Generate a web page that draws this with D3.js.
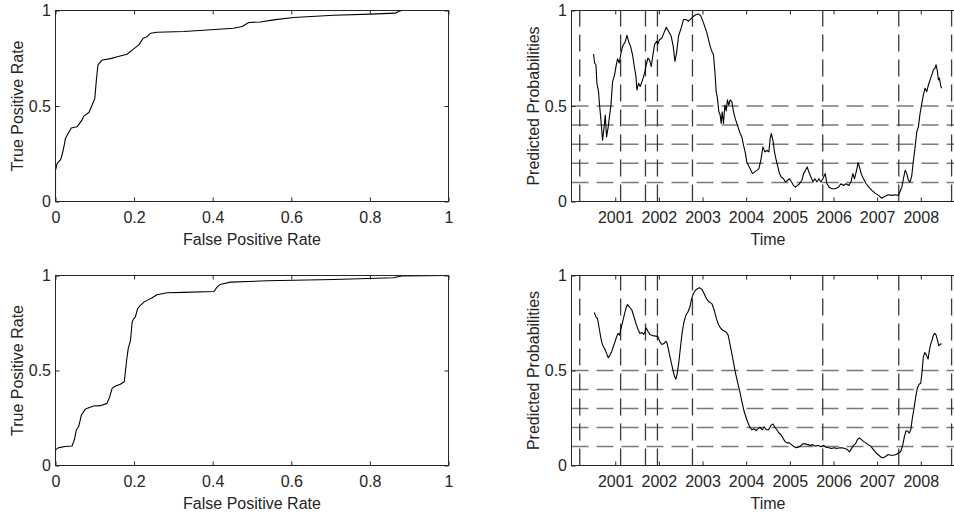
<!DOCTYPE html>
<html>
<head>
<meta charset="utf-8">
<script src="https://cdn.jsdelivr.net/npm/d3@7"></script>
<style>
  html, body { margin: 0; padding: 0; background: #fff; }
  svg { display: block; }
  text { font-family: "Liberation Sans", Arial, Helvetica, sans-serif; }
</style>
</head>
<body>
<svg id="chart" width="954" height="512"></svg>
<script>
// ROC curves: [false positive rate, true positive rate]
const rocTop = [
  [0,0],[0,0.163],[0.004,0.198],[0.013,0.219],[0.015,0.233],[0.019,0.264],[0.023,0.303],
  [0.025,0.329],[0.032,0.356],[0.040,0.385],[0.055,0.391],[0.068,0.429],[0.072,0.447],
  [0.085,0.466],[0.093,0.504],[0.100,0.539],[0.104,0.636],[0.108,0.715],[0.119,0.741],
  [0.140,0.748],[0.157,0.758],[0.182,0.771],[0.199,0.799],[0.212,0.820],[0.223,0.855],
  [0.233,0.863],[0.242,0.881],[0.258,0.886],[0.326,0.890],[0.386,0.898],[0.453,0.907],
  [0.475,0.916],[0.492,0.937],[0.521,0.940],[0.555,0.951],[0.606,0.963],[0.708,0.975],
  [0.801,0.981],[0.864,0.986],[0.873,0.995],[0.881,1],[1,1]
];
const rocBottom = [
  [0,0],[0,0.082],[0.008,0.094],[0.025,0.100],[0.042,0.103],[0.048,0.135],[0.053,0.187],
  [0.059,0.205],[0.066,0.266],[0.076,0.297],[0.097,0.313],[0.114,0.315],[0.131,0.327],
  [0.138,0.362],[0.144,0.406],[0.153,0.418],[0.165,0.428],[0.175,0.441],[0.181,0.554],
  [0.185,0.615],[0.191,0.659],[0.195,0.755],[0.199,0.773],[0.203,0.781],[0.209,0.825],
  [0.216,0.843],[0.225,0.860],[0.233,0.869],[0.246,0.883],[0.258,0.899],[0.284,0.909],
  [0.326,0.911],[0.403,0.916],[0.411,0.939],[0.419,0.953],[0.445,0.965],[0.538,0.972],
  [0.708,0.979],[0.860,0.988],[0.881,0.997],[1,1]
];

// Predicted probabilities over time: [decimal year, probability]
const probTop = [
  [2000.504,0.772],[2000.527,0.725],[2000.559,0.716],[2000.581,0.619],[2000.618,0.575],
  [2000.641,0.505],[2000.673,0.426],[2000.710,0.321],[2000.742,0.383],[2000.772,0.453],
  [2000.801,0.338],[2000.834,0.383],[2000.863,0.435],[2000.902,0.505],[2000.939,0.628],
  [2000.985,0.663],[2001.017,0.707],[2001.053,0.747],[2001.092,0.725],[2001.131,0.777],
  [2001.168,0.812],[2001.230,0.838],[2001.269,0.870],[2001.305,0.838],[2001.351,0.812],
  [2001.397,0.768],[2001.436,0.707],[2001.475,0.654],[2001.497,0.584],[2001.534,0.619],
  [2001.573,0.602],[2001.626,0.637],[2001.672,0.672],[2001.711,0.716],[2001.749,0.751],
  [2001.786,0.742],[2001.825,0.707],[2001.864,0.768],[2001.901,0.821],[2001.946,0.838],
  [2001.978,0.825],[2002.015,0.847],[2002.070,0.856],[2002.116,0.883],[2002.169,0.912],
  [2002.221,0.891],[2002.283,0.865],[2002.329,0.812],[2002.368,0.733],[2002.405,0.777],
  [2002.450,0.865],[2002.512,0.909],[2002.565,0.953],[2002.620,0.953],[2002.679,0.944],
  [2002.741,0.958],[2002.794,0.970],[2002.855,0.979],[2002.908,0.982],[2002.960,0.972],
  [2003.023,0.935],[2003.100,0.883],[2003.176,0.812],[2003.215,0.786],[2003.252,0.768],
  [2003.284,0.681],[2003.314,0.575],[2003.343,0.540],[2003.375,0.470],[2003.405,0.453],
  [2003.428,0.409],[2003.451,0.470],[2003.481,0.409],[2003.513,0.505],[2003.543,0.474],
  [2003.572,0.532],[2003.604,0.505],[2003.634,0.532],[2003.673,0.523],[2003.710,0.470],
  [2003.749,0.435],[2003.787,0.409],[2003.824,0.383],[2003.863,0.356],[2003.902,0.338],
  [2003.939,0.295],[2003.978,0.260],[2004.016,0.207],[2004.053,0.189],[2004.092,0.172],
  [2004.145,0.146],[2004.191,0.154],[2004.245,0.163],[2004.291,0.172],[2004.337,0.216],
  [2004.383,0.286],[2004.429,0.260],[2004.474,0.268],[2004.520,0.260],[2004.550,0.330],
  [2004.573,0.356],[2004.612,0.321],[2004.648,0.260],[2004.688,0.216],[2004.726,0.181],
  [2004.763,0.146],[2004.802,0.128],[2004.855,0.119],[2004.900,0.102],[2004.946,0.111],
  [2004.992,0.119],[2005.038,0.102],[2005.084,0.084],[2005.129,0.075],[2005.175,0.084],
  [2005.221,0.093],[2005.276,0.111],[2005.313,0.146],[2005.358,0.163],[2005.397,0.181],
  [2005.436,0.154],[2005.482,0.128],[2005.528,0.105],[2005.574,0.119],[2005.619,0.102],
  [2005.665,0.119],[2005.711,0.102],[2005.757,0.119],[2005.809,0.146],[2005.849,0.093],
  [2005.901,0.075],[2005.963,0.067],[2006.038,0.067],[2006.114,0.075],[2006.169,0.093],
  [2006.229,0.084],[2006.290,0.093],[2006.352,0.084],[2006.398,0.102],[2006.444,0.146],
  [2006.480,0.119],[2006.519,0.154],[2006.565,0.204],[2006.595,0.181],[2006.634,0.146],
  [2006.687,0.119],[2006.748,0.093],[2006.810,0.075],[2006.879,0.058],[2006.954,0.044],
  [2007.030,0.032],[2007.108,0.017],[2007.183,0.028],[2007.259,0.035],[2007.337,0.032],
  [2007.412,0.035],[2007.488,0.032],[2007.566,0.075],[2007.603,0.119],[2007.642,0.163],
  [2007.680,0.146],[2007.717,0.111],[2007.756,0.102],[2007.795,0.137],[2007.832,0.216],
  [2007.871,0.286],[2007.909,0.365],[2007.946,0.391],[2007.985,0.462],[2008.024,0.514],
  [2008.060,0.558],[2008.099,0.593],[2008.138,0.575],[2008.175,0.611],[2008.214,0.637],
  [2008.253,0.663],[2008.289,0.689],[2008.328,0.698],[2008.351,0.716],[2008.381,0.681],
  [2008.404,0.637],[2008.427,0.646],[2008.459,0.602],[2008.482,0.593]
];
const probBottom = [
  [2000.520,0.805],[2000.559,0.782],[2000.595,0.773],[2000.634,0.721],[2000.673,0.669],
  [2000.710,0.634],[2000.756,0.616],[2000.801,0.590],[2000.840,0.567],[2000.879,0.581],
  [2000.916,0.598],[2000.955,0.625],[2000.994,0.651],[2001.030,0.677],[2001.063,0.695],
  [2001.099,0.686],[2001.131,0.721],[2001.168,0.755],[2001.214,0.799],[2001.253,0.834],
  [2001.282,0.847],[2001.328,0.834],[2001.383,0.817],[2001.429,0.782],[2001.475,0.747],
  [2001.521,0.717],[2001.566,0.695],[2001.612,0.700],[2001.649,0.690],[2001.688,0.707],
  [2001.711,0.724],[2001.749,0.707],[2001.795,0.690],[2001.841,0.686],[2001.887,0.682],
  [2001.933,0.681],[2001.978,0.677],[2002.024,0.651],[2002.070,0.637],[2002.116,0.642],
  [2002.162,0.654],[2002.191,0.642],[2002.230,0.598],[2002.276,0.550],[2002.322,0.503],
  [2002.359,0.468],[2002.391,0.455],[2002.421,0.485],[2002.459,0.546],[2002.496,0.625],
  [2002.535,0.703],[2002.574,0.755],[2002.620,0.791],[2002.665,0.808],[2002.711,0.834],
  [2002.741,0.869],[2002.780,0.899],[2002.833,0.921],[2002.878,0.930],[2002.931,0.936],
  [2002.986,0.927],[2003.039,0.904],[2003.091,0.878],[2003.153,0.860],[2003.215,0.852],
  [2003.268,0.817],[2003.320,0.773],[2003.366,0.742],[2003.421,0.721],[2003.467,0.712],
  [2003.543,0.703],[2003.588,0.686],[2003.634,0.634],[2003.687,0.572],[2003.749,0.494],
  [2003.801,0.441],[2003.847,0.398],[2003.902,0.337],[2003.955,0.284],[2004.016,0.241],
  [2004.076,0.206],[2004.131,0.188],[2004.184,0.194],[2004.229,0.183],[2004.275,0.194],
  [2004.321,0.201],[2004.367,0.188],[2004.413,0.204],[2004.459,0.188],[2004.511,0.188],
  [2004.566,0.211],[2004.612,0.218],[2004.658,0.201],[2004.703,0.188],[2004.749,0.171],
  [2004.795,0.162],[2004.841,0.145],[2004.887,0.127],[2004.932,0.119],[2004.985,0.119],
  [2005.038,0.110],[2005.084,0.101],[2005.139,0.093],[2005.191,0.096],[2005.237,0.101],
  [2005.290,0.114],[2005.345,0.114],[2005.404,0.110],[2005.466,0.106],[2005.528,0.110],
  [2005.587,0.101],[2005.649,0.106],[2005.711,0.099],[2005.771,0.106],[2005.833,0.096],
  [2005.894,0.093],[2005.954,0.089],[2006.016,0.093],[2006.077,0.089],[2006.137,0.093],
  [2006.199,0.093],[2006.261,0.089],[2006.320,0.084],[2006.366,0.072],[2006.412,0.089],
  [2006.457,0.106],[2006.503,0.114],[2006.549,0.136],[2006.595,0.145],[2006.641,0.136],
  [2006.687,0.127],[2006.741,0.119],[2006.794,0.110],[2006.856,0.101],[2006.916,0.084],
  [2006.977,0.066],[2007.039,0.054],[2007.092,0.043],[2007.145,0.040],[2007.200,0.049],
  [2007.252,0.058],[2007.314,0.054],[2007.373,0.054],[2007.435,0.058],[2007.497,0.066],
  [2007.543,0.075],[2007.589,0.110],[2007.626,0.153],[2007.664,0.183],[2007.703,0.180],
  [2007.739,0.171],[2007.772,0.188],[2007.808,0.250],[2007.847,0.302],[2007.886,0.363],
  [2007.922,0.407],[2007.961,0.428],[2008.000,0.433],[2008.030,0.494],[2008.060,0.572],
  [2008.092,0.595],[2008.129,0.581],[2008.168,0.560],[2008.198,0.607],[2008.230,0.642],
  [2008.260,0.660],[2008.289,0.686],[2008.321,0.695],[2008.351,0.686],[2008.381,0.660],
  [2008.413,0.630],[2008.443,0.637],[2008.472,0.642]
];

// Event dates (vertical markers) and probability thresholds (horizontal markers)
const eventDates = ["2000-03-10", "2001-02-15", "2001-09-11", "2001-12-20",
                    "2002-10-09", "2005-10-03", "2007-07-01", "2008-09-15"];
const thresholds = [0.1, 0.2, 0.3, 0.4, 0.5];

// Axis ticks and labels
const rateTicks = [0, 0.2, 0.4, 0.6, 0.8, 1];
const probTicks = [0, 0.5, 1];
const yearTicks = [2001, 2002, 2003, 2004, 2005, 2006, 2007, 2008];
const timeDomain = ["2000-01-01", "2009-01-01"];
const labels = {
  fpr: "False Positive Rate",
  tpr: "True Positive Rate",
  time: "Time",
  prob: "Predicted Probabilities"
};

// ---------------------------------------------------------------------------
const INK = "#262626";
const FONT_SIZE = 16;
const TICK = 4;
const DASH = "17,8";

const svg = d3.select("#chart");

const colLeft = [55.5, 448.5];
const colRight = [571.5, 964.5];
const rowTop = [201.5, 10.5];
const rowBottom = [465.5, 275.5];

const decimalYearToDate = t => {
  const y = Math.floor(t);
  const a = Date.UTC(y, 0, 1), b = Date.UTC(y + 1, 0, 1);
  return new Date(a + (t - y) * (b - a));
};
const parseDay = d3.utcParse("%Y-%m-%d");
const numFmt = d3.format("~g");

function frame(g, x, y, xTicks, xFmt, xLabel, yLabel) {
  const [x0, x1] = x.range();
  const [y0, y1] = y.range();

  const styleAxis = sel => {
    sel.select(".domain").remove();
    sel.selectAll(".tick line").attr("stroke", INK).attr("stroke-width", 1);
    sel.selectAll(".tick text")
      .attr("fill", INK)
      .attr("font-size", FONT_SIZE)
      .attr("font-family", '"Liberation Sans", Arial, sans-serif');
  };

  g.append("g").attr("transform", `translate(0,${y0})`)
    .call(d3.axisBottom(x).tickValues(xTicks).tickFormat(xFmt)
      .tickSize(-TICK).tickPadding(10))
    .call(styleAxis);
  g.append("g").attr("transform", `translate(0,${y1})`)
    .call(d3.axisTop(x).tickValues(xTicks).tickFormat("").tickSize(-TICK))
    .call(styleAxis);
  g.append("g").attr("transform", `translate(${x0},0)`)
    .call(d3.axisLeft(y).tickValues(probTicks).tickFormat(numFmt)
      .tickSize(-TICK).tickPadding(4.5))
    .call(styleAxis);
  g.append("g").attr("transform", `translate(${x1},0)`)
    .call(d3.axisRight(y).tickValues(probTicks).tickFormat("").tickSize(-TICK))
    .call(styleAxis);

  g.append("rect")
    .attr("x", x0).attr("y", y1)
    .attr("width", x1 - x0).attr("height", y0 - y1)
    .attr("fill", "none").attr("stroke", INK).attr("stroke-width", 1);

  g.append("text")
    .attr("x", (x0 + x1) / 2).attr("y", y0 + 43.5)
    .attr("text-anchor", "middle")
    .attr("font-size", FONT_SIZE).attr("fill", INK)
    .text(xLabel);

  g.append("text")
    .attr("transform", `translate(${x0 - 33},${(y0 + y1) / 2}) rotate(-90)`)
    .attr("text-anchor", "middle")
    .attr("font-size", FONT_SIZE).attr("fill", INK)
    .text(yLabel);
}

function rocPanel(data, row) {
  const g = svg.append("g");
  const x = d3.scaleLinear().domain([0, 1]).range(colLeft);
  const y = d3.scaleLinear().domain([0, 1]).range(row);

  g.append("path")
    .datum(data)
    .attr("fill", "none")
    .attr("stroke", "#000")
    .attr("stroke-width", 1.1)
    .attr("stroke-linejoin", "round")
    .attr("d", d3.line().x(d => x(d[0])).y(d => y(d[1])));

  frame(g, x, y, rateTicks, numFmt, labels.fpr, labels.tpr);
}

function probabilityPanel(data, row) {
  const g = svg.append("g");
  const x = d3.scaleUtc().domain(timeDomain.map(parseDay)).range(colRight);
  const y = d3.scaleLinear().domain([0, 1]).range(row);

  // threshold guides
  g.append("g").selectAll("line")
    .data(thresholds)
    .join("line")
    .attr("x1", colRight[0]).attr("x2", colRight[1])
    .attr("y1", d => y(d)).attr("y2", d => y(d))
    .attr("stroke", "#7a7a7a").attr("stroke-width", 1.5)
    .attr("stroke-dasharray", DASH);

  // event markers, drawn upward from the baseline
  g.append("g").selectAll("line")
    .data(eventDates.map(parseDay))
    .join("line")
    .attr("x1", d => x(d)).attr("x2", d => x(d))
    .attr("y1", y(0)).attr("y2", y(1))
    .attr("stroke", "#3a3a3a").attr("stroke-width", 1.3)
    .attr("stroke-dasharray", DASH);

  g.append("path")
    .datum(data)
    .attr("fill", "none")
    .attr("stroke", "#000")
    .attr("stroke-width", 1.1)
    .attr("stroke-linejoin", "round")
    .attr("d", d3.line().x(d => x(decimalYearToDate(d[0]))).y(d => y(d[1])));

  const yearDates = yearTicks.map(yr => new Date(Date.UTC(yr, 0, 1)));
  frame(g, x, y, yearDates, d3.utcFormat("%Y"), labels.time, labels.prob);
}

rocPanel(rocTop, rowTop);
probabilityPanel(probTop, rowTop);
rocPanel(rocBottom, rowBottom);
probabilityPanel(probBottom, rowBottom);
</script>
</body>
</html>
